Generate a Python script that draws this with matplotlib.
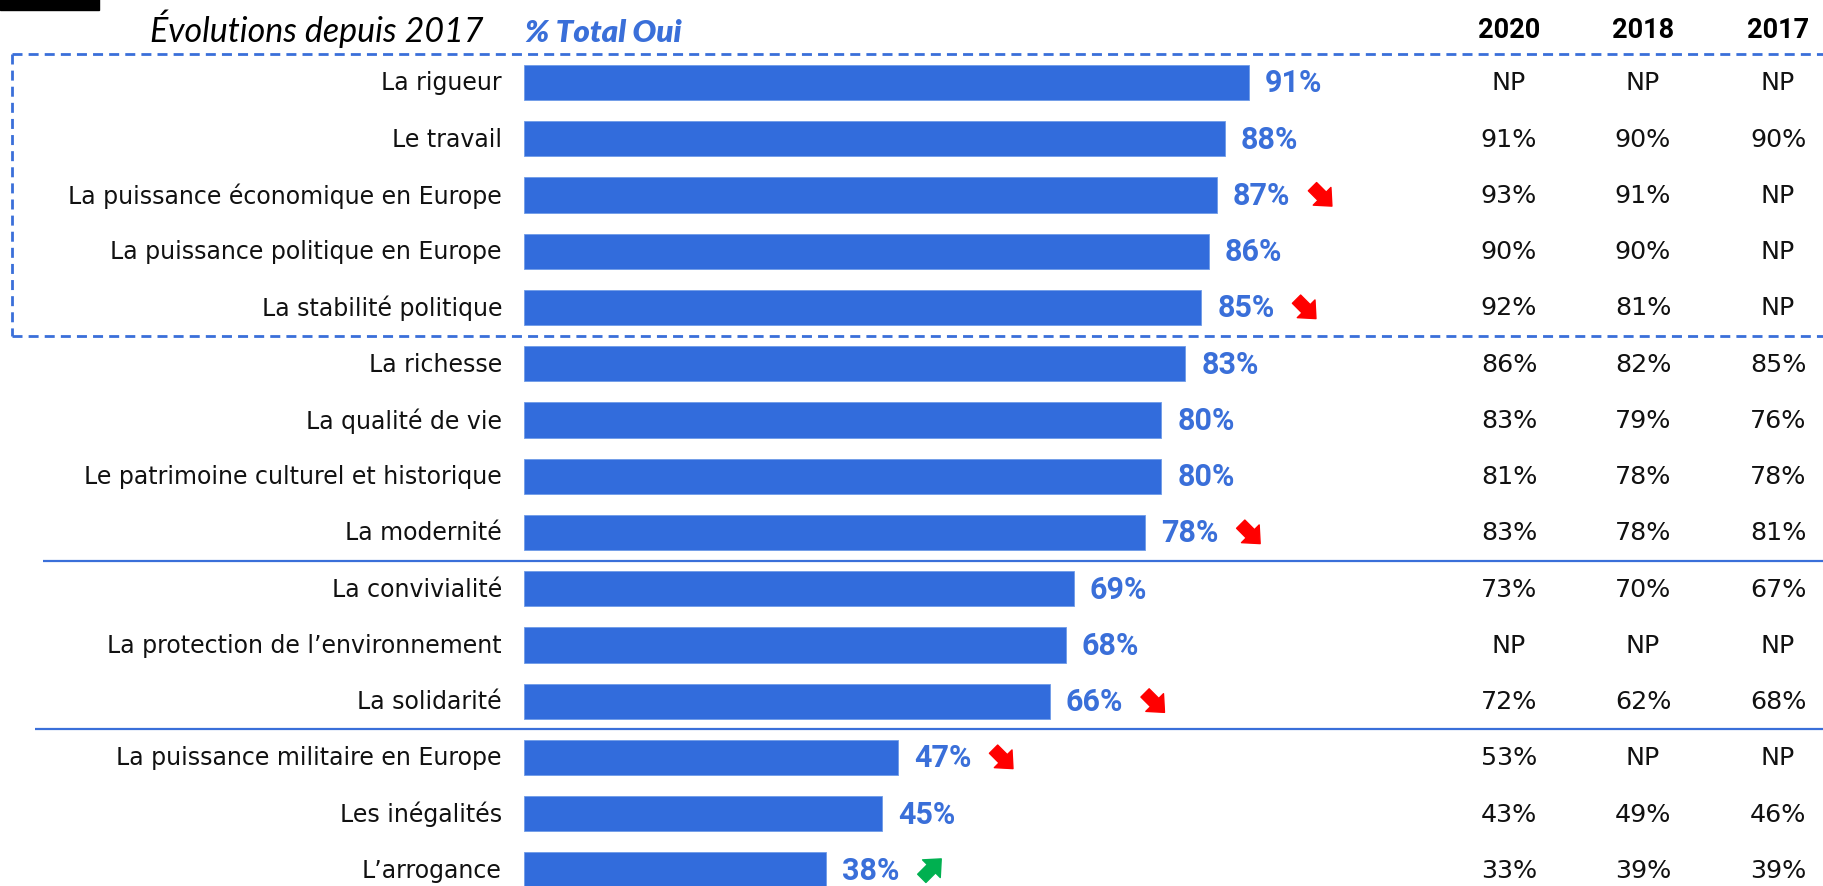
import matplotlib
matplotlib.use("Agg")
import matplotlib.pyplot as plt
from matplotlib.patches import Rectangle
from matplotlib.transforms import offset_copy

# ---------------- data ----------------
categories = [
    "La rigueur", "Le travail", "La puissance économique en Europe",
    "La puissance politique en Europe", "La stabilité politique", "La richesse",
    "La qualité de vie", "Le patrimoine culturel et historique", "La modernité",
    "La convivialité", "La protection de l’environnement", "La solidarité",
    "La puissance militaire en Europe", "Les inégalités", "L’arrogance",
]
total_oui = [91, 88, 87, 86, 85, 83, 80, 80, 78, 69, 68, 66, 47, 45, 38]
trend = [None, None, "down", None, "down", None, None, None, "down",
         None, None, "down", "down", None, "up"]
years = ["2020", "2018", "2017"]
hist_2020 = [None, 91, 93, 90, 92, 86, 83, 81, 83, 73, None, 72, 53, 43, 33]
hist_2018 = [None, 90, 91, 90, 81, 82, 79, 78, 78, 70, None, 62, None, 49, 39]
hist_2017 = [None, 90, None, None, None, 85, 76, 78, 81, 67, None, 68, None, 46, 39]
title_text = "Évolutions depuis 2017"
subtitle_text = "% Total Oui"

# ---------------- style ----------------
BAR = "#326CDC"
LBL = "#3A6FD9"
RED = "#FF0000"
GREEN = "#00B050"
W, H = 1823, 887
X0, PXU = 523.5, 7.973        # pixel of 0 %, pixels per %
Y0, PXR = 83.5, 56.25          # pixel of row 0 centre, pixels per row

def ux(px):
    return (px - X0) / PXU

def uy(py):
    return (py - Y0) / PXR

fig = plt.figure(figsize=(W / 100, H / 100), dpi=100)
ax = fig.add_axes([0, 0, 1, 1])
ax.set_xlim(ux(0), ux(W))
ax.set_ylim(uy(H), uy(0))
ax.axis("off")

rows = list(range(len(categories)))
ax.barh(rows, total_oui, height=0.63, color=BAR, edgecolor="#6f9be8", linewidth=0.6)

cat_font = dict(family=["DejaVu Sans"], fontsize=17, color="#111111")
tab_font = dict(family=["DejaVu Sans"], fontsize=18.3, color="#111111")
for i, (c, v) in enumerate(zip(categories, total_oui)):
    ax.text(ux(502), i, c, ha="right", va="center", **cat_font)
    ax.text(v + 2.0, i, f"{v}%", ha="left", va="center", family="Roboto",
            fontweight="bold", fontsize=22, color=LBL)

# trend arrows
for i, (v, t) in enumerate(zip(total_oui, trend)):
    if t is None:
        continue
    cx = v + 13.0
    if t == "down":
        tail = offset_copy(ax.transData, fig=fig, x=-6, y=6, units="points")
        head = offset_copy(ax.transData, fig=fig, x=8, y=-8, units="points")
        col = RED
    else:
        tail = offset_copy(ax.transData, fig=fig, x=-6, y=-6, units="points")
        head = offset_copy(ax.transData, fig=fig, x=8, y=8, units="points")
        col = GREEN
    ax.annotate("", xy=(cx, i), xycoords=head, xytext=(cx, i), textcoords=tail,
                arrowprops=dict(arrowstyle="simple,head_length=0.5,head_width=0.9,tail_width=0.42",
                                color=col, shrinkA=0, shrinkB=0, mutation_scale=20))

# table
col_x = [ux(1509), ux(1643), ux(1778)]
for cx, yr, vals in zip(col_x, years, [hist_2020, hist_2018, hist_2017]):
    ax.text(cx, uy(31), yr, ha="center", va="center", family="Roboto",
            fontweight="bold", fontsize=19.5, color="black")
    for i, v in enumerate(vals):
        s = "NP" if v is None else f"{v}%"
        ax.text(cx, i, s, ha="center", va="center", **tab_font)

# titles
ax.text(ux(484), uy(42), title_text, ha="right", va="baseline",
        family=["Lato", "DejaVu Sans"], style="italic", fontweight="normal",
        fontsize=24.5, color="black")
ax.text(ux(525), uy(42), subtitle_text, ha="left", va="baseline",
        family=["Lato", "DejaVu Sans"], style="italic", fontweight="heavy",
        fontsize=22.5, color=LBL)

# black tab top-left
fig.patches.append(Rectangle((0, 1 - 11 / H), 99 / W, 11 / H,
                             transform=fig.transFigure, color="black"))

# dashed box around first five rows
dash = dict(color=LBL, lw=2, linestyle=(0, (3.6, 2.2)))
ax.plot([ux(12), ux(W)], [-0.5, -0.5], **dash)
ax.plot([ux(12), ux(W)], [4.5, 4.5], **dash)
ax.plot([ux(12), ux(12)], [-0.5, 4.5], **dash)

# solid separators
ax.plot([ux(43), ux(W)], [8.5, 8.5], color=LBL, lw=1.6, solid_capstyle="butt")
ax.plot([ux(35), ux(W)], [11.5, 11.5], color=LBL, lw=1.6, solid_capstyle="butt")

fig.savefig("out.png", dpi=100)
